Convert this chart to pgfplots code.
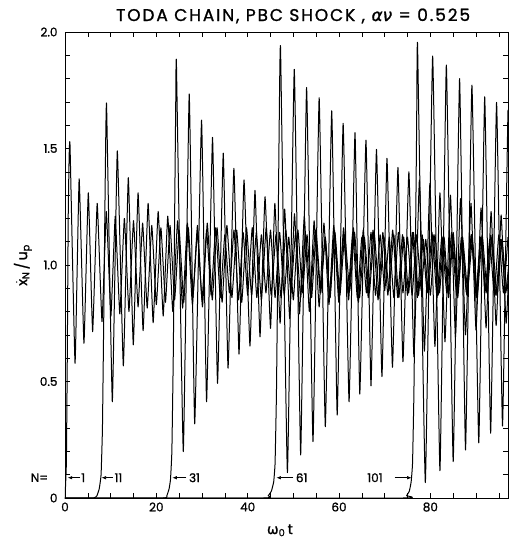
\documentclass[border=0pt]{standalone}
\usepackage{pgfplots}
\pgfplotsset{compat=1.18}
\usepackage{fontspec}
\setmainfont{Poppins}[FakeBold=1.2]
\newfontfamily\greek{DejaVu Sans}[FakeBold=1.2]
\usetikzlibrary{arrows.meta}

\begin{document}
\begin{tikzpicture}
\path[use as bounding box] (-65pt,-41pt) rectangle (444pt,498pt);
\begin{axis}[
  at={(0pt,0pt)}, anchor=south west,
  scale only axis, width=443pt, height=466pt,
  xmin=0, xmax=97, ymin=0, ymax=2,
  clip mode=individual,
  axis line style={line width=0.7pt},
  tick align=inside,
  major tick length=5pt, minor tick length=5pt,
  every tick/.style={line width=0.6pt, black},
  xtick={0,20,40,60,80},
  minor xtick={5,10,15,25,30,35,45,50,55,65,70,75,85,90,95},
  ytick={0,0.5,1,1.5,2},
  yticklabels={0,0.5,1.0,1.5,2.0},
  minor ytick={0.1,0.2,0.3,0.4,0.6,0.7,0.8,0.9,1.1,1.2,1.3,1.4,1.6,1.7,1.8,1.9},
  /pgf/number format/assume math mode=true,
  tick label style={font=\fontsize{12}{14}\selectfont},
  yticklabel style={xshift=-4pt},
  xticklabel style={yshift=-1pt},
  title={TODA CHAIN, PBC SHOCK , {\greek\itshape αν} = 0.525},
  title style={font=\fontsize{17}{19}\selectfont\addfontfeatures{LetterSpace=11}, at={(axis description cs:0.515,1)}, anchor=base, yshift=5pt},
  xlabel={{\greek ω}\textsubscript{0}\,t},
  xlabel style={font=\fontsize{14}{15}\selectfont, at={(axis description cs:0.485,0)}, anchor=base, yshift=-36pt},
  ylabel={$\dot{\mbox{x}}$\textsubscript{N}\,/\,u\textsubscript{p}},
  ylabel style={font=\fontsize{14}{15}\selectfont, at={(axis description cs:-0.095,0.5)}, anchor=center},
  curve/.style={black, line width=1.0pt, smooth, tension=0.2, no markers, line join=round},
]
% N = 1
\addplot[curve] coordinates {
(0,0) (0.3,0.15) (0.5,0.6) (0.7,1.2) (0.9,1.46) (1.1,1.515)
(2.2,0.578) (3.1,1.37) (4.15,0.664) (5.1,1.31) (6.05,0.714) (7.05,1.265) (8.1,0.757) (9.05,1.23) (10.05,0.78) (11.0,1.21) (12.0,0.79) (13.0,1.2) (14.0,0.80) (15.0,1.19) (16.0,0.82) (17.0,1.18) (18.0,0.815) (19.0,1.17) (20.0,0.83) (21.0,1.16) (22.0,0.84) (23.0,1.17) (24.0,0.85) (25.0,1.15) (26.0,0.84) (27.0,1.16) (28.0,0.86) (29.0,1.14) (30.0,0.85) (31.0,1.15) (32.0,0.87) (33.0,1.16) (34.0,0.86) (35.0,1.13) (36.0,0.88) (37.0,1.15) (38.0,0.85) (39.0,1.14) (40.0,0.87) (41.0,1.16) (42.0,0.86) (43.0,1.13) (44.0,0.88) (45.0,1.15) (46.0,0.86) (47.0,1.14) (48.0,0.87) (49.0,1.12) (50.0,0.85) (51.0,1.15) (52.0,0.88) (53.0,1.13) (54.0,0.86) (55.0,1.14) (56.0,0.88) (57.0,1.12) (58.0,0.86) (59.0,1.15) (60.0,0.87) (61.0,1.13) (62.0,0.88) (63.0,1.14) (64.0,0.86) (65.0,1.12) (66.0,0.88) (67.0,1.14) (68.0,0.87) (69.0,1.13) (70.0,0.89) (71.0,1.12) (72.0,0.86) (73.0,1.14) (74.0,0.88) (75.0,1.12) (76.0,0.87) (77.0,1.13) (78.0,0.89) (79.0,1.11) (80.0,0.87) (81.0,1.13) (82.0,0.88) (83.0,1.12) (84.0,0.86) (85.0,1.14) (86.0,0.89) (87.0,1.11) (88.0,0.87) (89.0,1.13) (90.0,0.88) (91.0,1.12) (92.0,0.89) (93.0,1.11) (94.0,0.87) (95.0,1.13) (96.0,0.88) (97.0,1.12)
};
% N = 11
\addplot[curve] coordinates {
(0,0) (6.3,0) (7.0,0.01) (7.5,0.04) (7.9,0.1) (8.2,0.3) (8.5,0.8) (8.8,1.35) (9.1,1.69)
(10.36,0.413) (11.45,1.49) (12.77,0.567) (13.86,1.375) (14.95,0.657) (16.0,1.31) (17.1,0.718) (18.2,1.265) (19.3,0.752) (20.4,1.23) (21.5,0.781) (22.5,1.21) (23.6,0.80) (24.65,1.19) (25.75,0.815) (26.8,1.18) (27.9,0.83) (29.0,1.17) (30.1,0.82) (31.15,1.18) (32.25,0.85) (33.3,1.16) (34.4,0.84) (35.45,1.17) (36.55,0.86) (37.6,1.15) (38.7,0.84) (39.75,1.16) (40.85,0.87) (41.9,1.14) (43.0,0.85) (44.05,1.16) (45.15,0.87) (46.2,1.13) (47.3,0.86) (48.35,1.15) (49.45,0.88) (50.5,1.14) (51.6,0.86) (52.65,1.13) (53.75,0.87) (54.8,1.15) (55.9,0.88) (56.95,1.12) (58.05,0.86) (59.1,1.14) (60.2,0.87) (61.25,1.13) (62.35,0.89) (63.4,1.14) (64.5,0.86) (65.55,1.12) (66.65,0.88) (67.7,1.14) (68.8,0.87) (69.85,1.12) (70.95,0.89) (72.0,1.13) (73.1,0.86) (74.15,1.12) (75.25,0.88) (76.3,1.14) (77.4,0.87) (78.45,1.11) (79.55,0.89) (80.6,1.13) (81.7,0.87) (82.75,1.12) (83.85,0.88) (84.9,1.13) (86.0,0.86) (87.05,1.12) (88.15,0.89) (89.2,1.11) (90.3,0.87) (91.35,1.13) (92.45,0.88) (93.5,1.12) (94.6,0.87) (95.65,1.11) (96.75,0.89) (97.8,1.1)
};
% N = 31
\addplot[curve] coordinates {
(0,0) (21.5,0) (22.3,0.01) (22.8,0.04) (23.1,0.08) (23.4,0.2) (23.7,0.6) (24.0,1.2) (24.25,1.7) (24.4,1.865)
(25.9,0.199) (27.2,1.734) (28.4,0.318) (29.9,1.622) (31.0,0.413) (32.3,1.548) (33.4,0.492) (34.65,1.48) (35.7,0.557) (36.98,1.415) (38.1,0.618) (39.2,1.365) (40.5,0.652) (41.6,1.32) (42.7,0.692) (43.8,1.293) (45.0,0.728) (45.95,1.265)
(47.1,0.75) (48.1,1.24) (49.2,0.77) (50.25,1.22) (51.35,0.79) (52.4,1.21) (53.5,0.80) (54.55,1.19) (55.65,0.82) (56.7,1.18) (57.8,0.83) (58.85,1.17) (59.95,0.84) (61.0,1.16) (62.1,0.85) (63.15,1.16) (64.25,0.84) (65.3,1.15) (66.4,0.86) (67.45,1.15) (68.55,0.85) (69.6,1.14) (70.7,0.87) (71.75,1.15) (72.85,0.86) (73.9,1.13) (75.0,0.87) (76.05,1.14) (77.15,0.86) (78.2,1.13) (79.3,0.88) (80.35,1.14) (81.45,0.86) (82.5,1.12) (83.6,0.88) (84.65,1.14) (85.75,0.87) (86.8,1.12) (87.9,0.88) (88.95,1.13) (90.05,0.86) (91.1,1.12) (92.2,0.88) (93.25,1.13) (94.35,0.87) (95.4,1.11) (96.5,0.88) (97.6,1.1)
};
% N = 61
\addplot[curve] coordinates {
(0,0) (43.5,0) (44.5,0.01) (45.2,0.03) (45.7,0.07) (46.0,0.15) (46.3,0.45) (46.6,1.0) (46.9,1.6) (47.2,1.93)
(48.7,0.109) (50.2,1.84) (51.6,0.185) (52.9,1.762) (54.3,0.242) (55.65,1.718) (57.0,0.306) (58.4,1.662) (59.6,0.356) (60.9,1.608) (62.2,0.413) (63.5,1.568) (64.55,0.446) (65.9,1.536) (67.0,0.481) (68.2,1.496) (69.4,0.521) (70.5,1.458) (71.7,0.561) (72.9,1.419) (74.0,0.585) (75.3,1.40) (76.4,0.606) (77.6,1.365) (78.7,0.63) (79.9,1.35) (81.0,0.65) (82.1,1.31) (83.2,0.67) (84.4,1.30) (85.5,0.69) (86.6,1.285) (87.7,0.70) (88.9,1.265) (90.0,0.72) (91.1,1.245) (92.2,0.73) (93.3,1.23) (94.4,0.74) (95.5,1.215) (96.6,0.75) (97.7,1.2)
};
% N = 101
\addplot[curve] coordinates {
(0,0) (74.0,0) (74.8,0.01) (75.4,0.03) (75.8,0.07) (76.1,0.15) (76.4,0.45) (76.7,1.0) (77.0,1.6) (77.2,1.944)
(78.9,0.066) (80.5,1.897) (82.1,0.117) (83.5,1.858) (85.0,0.156) (86.4,1.80) (87.7,0.206) (89.1,1.772) (90.6,0.237) (91.9,1.722) (93.2,0.278) (94.5,1.698) (95.8,0.309) (97.0,1.662) (97.6,1.2)
};
% labels
\node[font=\fontsize{12}{14}\selectfont, anchor=center] at (axis cs:-5.6,0.087) {N=};
\draw[line width=0.6pt, -{Latex[length=4.5pt,width=3.5pt]}] (axis cs:3.3,0.087) -- (axis cs:0.6,0.087);
\node[font=\fontsize{12}{14}\selectfont, anchor=west, inner sep=1pt] at (axis cs:3.3,0.087) {1};
\draw[line width=0.6pt, -{Latex[length=4.5pt,width=3.5pt]}] (axis cs:10.5,0.087) -- (axis cs:8.0,0.087);
\node[font=\fontsize{12}{14}\selectfont, anchor=west, inner sep=1pt] at (axis cs:10.6,0.087) {11};
\draw[line width=0.6pt, -{Latex[length=4.5pt,width=3.5pt]}] (axis cs:26.6,0.087) -- (axis cs:23.5,0.087);
\node[font=\fontsize{12}{14}\selectfont, anchor=west, inner sep=1pt] at (axis cs:26.9,0.087) {31};
\draw[line width=0.6pt, -{Latex[length=4.5pt,width=3.5pt]}] (axis cs:50.0,0.087) -- (axis cs:46.3,0.087);
\node[font=\fontsize{12}{14}\selectfont, anchor=west, inner sep=1pt] at (axis cs:50.3,0.087) {61};
\node[font=\fontsize{12}{14}\selectfont, anchor=east, inner sep=1pt] at (axis cs:69.8,0.087) {101};
\draw[line width=0.6pt, -{Latex[length=4.5pt,width=3.5pt]}] (axis cs:72.2,0.087) -- (axis cs:75.9,0.087);
\end{axis}
\end{tikzpicture}
\end{document}
